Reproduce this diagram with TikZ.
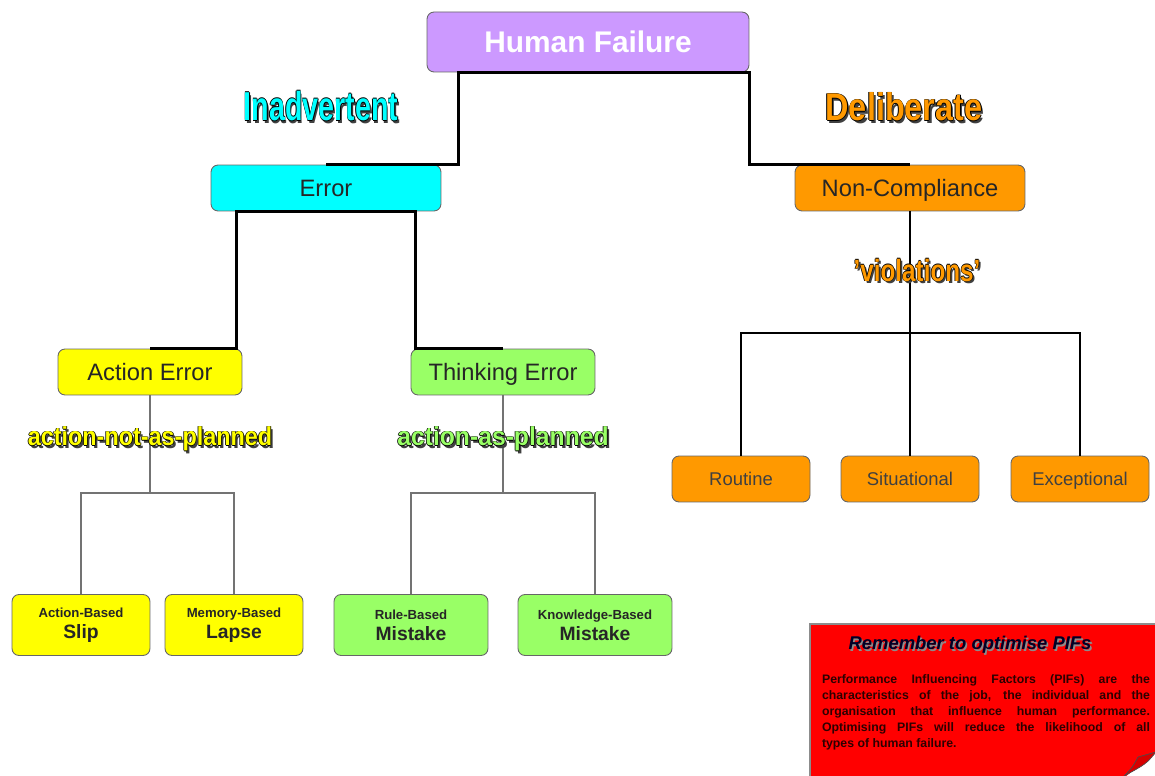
\documentclass[tikz,border=0pt]{standalone}
\usepackage{fontspec}
\setmainfont{Liberation Sans}
\usepackage{graphicx}
\usepackage{tikz}
\usetikzlibrary{calc}

\definecolor{hfpurple}{RGB}{204,153,255}
\definecolor{ercyan}{RGB}{0,255,255}
\definecolor{ncorange}{RGB}{255,153,0}
\definecolor{aeyellow}{RGB}{255,255,0}
\definecolor{tegreen}{RGB}{153,255,102}
\definecolor{notered}{RGB}{255,0,0}
\definecolor{notetext}{RGB}{45,0,0}

% word-art text: colour, squeeze, text (shadow + outline in one box)
\newcommand\artword[3]{\scalebox{#2}[1]{%
  \rlap{\hspace{1.4pt}\raisebox{-1.4pt}{\color{black!75}#3}}%
  \rlap{\hspace{0.45pt}\color{black}#3}\rlap{\hspace{-0.45pt}\color{black}#3}%
  \rlap{\raisebox{0.45pt}{\color{black}#3}}\rlap{\raisebox{-0.45pt}{\color{black}#3}}%
  {\color{#1}#3}}}
% text with a soft shadow only
\newcommand\shadeword[2]{\rlap{\hspace{0.9pt}\raisebox{-0.9pt}{\color{black!45}#2}}{\color{#1}#2}}

\begin{document}
\begin{tikzpicture}[x=0.02cm,y=-0.02cm,
  box/.style={draw=black!60,line width=0.5pt,rounded corners=4pt,align=center,
    inner sep=0pt,text=black!85,font=\fontsize{13.5}{15}\selectfont},
  midbox/.style={box,text height=9.7pt,text depth=0pt,minimum width=4.6cm,minimum height=0.92cm},
  subbox/.style={midbox,minimum width=3.68cm},
  vbox/.style={box,text height=7.5pt,text depth=0pt,minimum width=2.76cm,minimum height=0.92cm,
    text=black!75,font=\fontsize{10.5}{12}\selectfont},
  leaf/.style={box,minimum height=1.22cm,font=\bfseries},
  link/.style={line width=1.6pt,black},
  twig/.style={line width=0.6pt,black!55},
  art/.style={inner sep=0pt,font=\bfseries}]
\useasboundingbox (0,0) rectangle (1155,776);

%top
\node [box,fill=hfpurple,minimum width=6.44cm,minimum height=1.2cm,text=white,
  font=\fontsize{17}{19}\selectfont\bfseries] (hf) at (588,42) {Human Failure};

\node [midbox,fill=ercyan] (err) at (326,188) {Error};
\node [midbox,fill=ncorange] (nc) at (910,188) {Non-Compliance};

%error side
\node [subbox,fill=aeyellow] (ae) at (150,372) {Action Error};
\node [subbox,fill=tegreen] (te) at (503,372) {Thinking Error};

\node [leaf,fill=aeyellow,minimum width=2.76cm] (slip) at (81,625)
  {{\fontsize{7.5}{9}\selectfont Action-Based}\\{\fontsize{11}{13}\selectfont Slip}};
\node [leaf,fill=aeyellow,minimum width=2.76cm] (lapse) at (234,625)
  {{\fontsize{7.5}{9}\selectfont Memory-Based}\\{\fontsize{11}{13}\selectfont Lapse}};
\node [leaf,fill=tegreen,minimum width=3.08cm] (rule) at (411,625)
  {{\fontsize{7.5}{9}\selectfont Rule-Based}\\{\fontsize{11}{13}\selectfont Mistake}};
\node [leaf,fill=tegreen,minimum width=3.08cm] (know) at (595,625)
  {{\fontsize{7.5}{9}\selectfont Knowledge-Based}\\{\fontsize{11}{13}\selectfont Mistake}};

%violations side
\node [vbox,fill=ncorange] (rout) at (741,479) {Routine};
\node [vbox,fill=ncorange] (sit) at (910,479) {Situational};
\node [vbox,fill=ncorange] (exc) at (1080,479) {Exceptional};

\coordinate (vj) at (910,333);
\coordinate (aj) at (150,493);
\coordinate (tj) at (503,493);

\draw[link] (err.north) -| ([xshift=0.64cm]hf.south west) -- (hf.south east) |- (nc.north);
\draw[link] (ae.north) -| ([xshift=0.52cm]err.south west) -- ([xshift=-0.52cm]err.south east) |- (te.north);
\draw[link] (nc.south) -- (sit.north);
\draw[link] (rout.north) |- (vj) -| (exc.north);

\draw[twig] (ae.south) -- (aj);
\draw[twig] (slip.north) |- (aj) -| (lapse.north);
\draw[twig] (te.south) -- (tj);
\draw[twig] (rule.north) |- (tj) -| (know.north);

%labels
\node[art] (inad) at (321,107) {\artword{ercyan}{0.71}{\fontsize{23}{25}\selectfont Inadvertent}};
\node[art] (delib) at (904,108) {\artword{ncorange}{0.84}{\fontsize{22}{24}\selectfont Deliberate}};
\node[art] (viol) at (917,271) {\artword{ncorange}{0.79}{\fontsize{17.5}{19}\selectfont 'violations'}};
\node[art] (anap) at (150,440) {\artword{aeyellow}{0.9}{\fontsize{14.8}{16}\selectfont action-not-as-planned}};
\node[art] (aap) at (503,440) {\artword{tegreen}{0.95}{\fontsize{14.8}{16}\selectfont action-as-planned}};

%note
\filldraw[fill=notered,draw=black!45,line width=0.6pt] (810,624) rectangle (1162,782);
\fill[white] (1156,752) -- (1156,778) -- (1124,778) -- cycle;
\filldraw[fill={rgb,255:red,215;green,0;blue,0},draw=black!70,line width=0.4pt]
  (1124,776) .. controls (1132,768) .. (1138,757) -- (1156,752) .. controls (1146,764) .. (1124,776);
\node[font=\fontsize{10.5}{12}\selectfont\bfseries\itshape,inner sep=0pt]
  (ntitle) at (970,646) {\shadeword{black!85!blue}{Remember to optimise PIFs}};
\node[font=\fontsize{7}{9.07}\selectfont\bfseries,text=notetext,text width=6.56cm,align=justify,inner sep=0pt]
  (nbody) at (986,712) {Performance Influencing Factors (PIFs) are the\linebreak
  characteristics of the job, the individual and the\linebreak
  organisation that influence human performance.\linebreak
  Optimising PIFs will reduce the likelihood of all\linebreak
  types of human failure.};

\end{tikzpicture}
\end{document}
